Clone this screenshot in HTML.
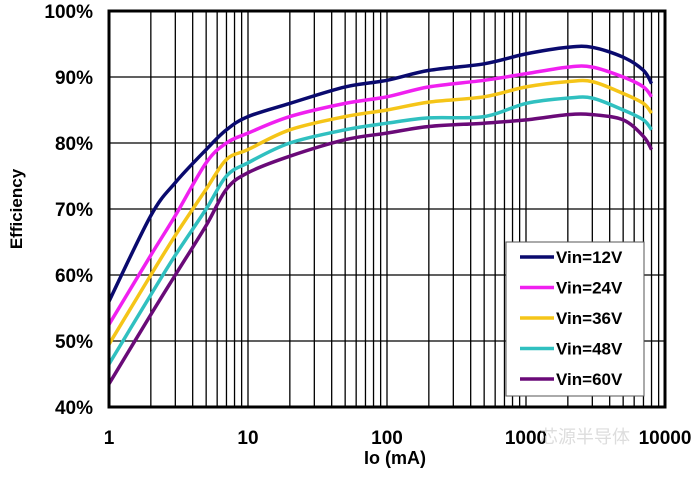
<!DOCTYPE html>
<html><head><meta charset="utf-8"><style>
body{margin:0;background:#fff;}
svg text{font-family:"Liberation Sans",Arial,sans-serif;font-weight:bold;}
</style></head><body>
<svg id="chart" width="695" height="472" viewBox="0 0 695 472" xmlns="http://www.w3.org/2000/svg">
<g id="grid"></g>
<g id="series"></g>
<rect x="109" y="11" width="556" height="396" fill="none" stroke="#000" stroke-width="3"/>
<g id="ylabels"></g>
<g id="xlabels"></g>
<text x="395" y="464" font-size="18" text-anchor="middle">Io (mA)</text>
<text transform="translate(22,209) rotate(-90)" font-size="17" text-anchor="middle">Efficiency</text>
<text x="540" y="443" font-size="18" fill="#ddd" style="font-weight:normal;font-family:'Liberation Sans','Noto Sans CJK SC',sans-serif">芯源半导体</text>
<g id="legend">
<rect x="506" y="242" width="138" height="154" fill="#fff" stroke="#555" stroke-width="1"/>
</g>
</svg>
<script>
const categories=[1,2,3,5,7,10,20,50,100,200,500,1000,2000,3000,5000,7000,8000];
const vin12=[56,69,74,79,82,84,86,88.5,89.5,91,92,93.5,94.5,94.5,93,91,89];
const vin24=[52.5,63,69,77,80,81.5,84,86,87,88.5,89.5,90.5,91.5,91.5,90,88.5,87];
const vin36=[49.5,60,66,73,77.5,79,82,84,85,86.2,87,88.5,89.3,89.3,87.5,86,84.5];
const vin48=[46.5,57,63,70,75,77,80,82,83,83.8,84,86,86.8,86.8,85,83.5,82];
const vin60=[43.5,54,60,67.5,73,75.5,78,80.5,81.5,82.5,83,83.5,84.3,84.3,83.5,81,79];
const seriesNames=["Vin=12V","Vin=24V","Vin=36V","Vin=48V","Vin=60V"];
const seriesColors=["#0a0a6e","#f020f0","#f5c518","#30c0c0","#6a0a78"];
const yTicks=[40,50,60,70,80,90,100];
const xTicks=[1,10,100,1000,10000];
const xTickLabels=["1","10","100","1000","10000"];
const NS="http://www.w3.org/2000/svg";
const X=v=>109+(Math.log10(v))*139;
const Y=v=>11+(100-v)*6.6;
function el(t,a,p){const e=document.createElementNS(NS,t);for(const k in a)e.setAttribute(k,a[k]);p.appendChild(e);return e;}
const grid=document.getElementById('grid');
for(let d=1;d<10000;d*=10)for(let m=1;m<10;m++){const x=X(d*m);
 const l=el('line',{x1:x,x2:x,y1:11,y2:407,stroke:'#000','stroke-width':1.3},grid);
 
 }
yTicks.forEach(t=>{const l=el('line',{x1:109,x2:665,y1:Y(t),y2:Y(t),stroke:'#000','stroke-width':1.3},grid);
 
 
 const tx=el('text',{x:93,y:Y(t)+7,'font-size':19,'text-anchor':'end'},document.getElementById('ylabels'));
 tx.textContent=t+'%';
 
 });
xTicks.forEach((t,i)=>{const tx=el('text',{x:X(t),y:444,'font-size':19,'text-anchor':'middle'},document.getElementById('xlabels'));
 tx.textContent=xTickLabels[i];
 
 });
const all=[vin12,vin24,vin36,vin48,vin60];
function path(vals){const p=categories.map((c,i)=>[X(c),Y(vals[i])]);
 let d='M'+p[0][0]+','+p[0][1];
 for(let i=0;i<p.length-1;i++){const p0=p[i-1]||p[i],p1=p[i],p2=p[i+1],p3=p[i+2]||p2;
  const c1=[p1[0]+(p2[0]-p0[0])/6,p1[1]+(p2[1]-p0[1])/6],c2=[p2[0]-(p3[0]-p1[0])/6,p2[1]-(p3[1]-p1[1])/6];
  d+=' C'+c1+' '+c2+' '+p2;}
 return d;}
const sg=document.getElementById('series');
all.forEach((vals,i)=>{const pa=el('path',{d:path(vals),fill:'none',stroke:seriesColors[i],'stroke-width':3.5},sg);
 
 });
const lg=document.getElementById('legend');
seriesNames.forEach((n,i)=>{const y=257+i*30.5;
 const l=el('line',{x1:520,x2:554,y1:y,y2:y,stroke:seriesColors[i],'stroke-width':3.5},lg);
 
 
 const t=el('text',{x:556,y:y+6,'font-size':17},lg);t.textContent=n;
 
 });
</script>
</body></html>
